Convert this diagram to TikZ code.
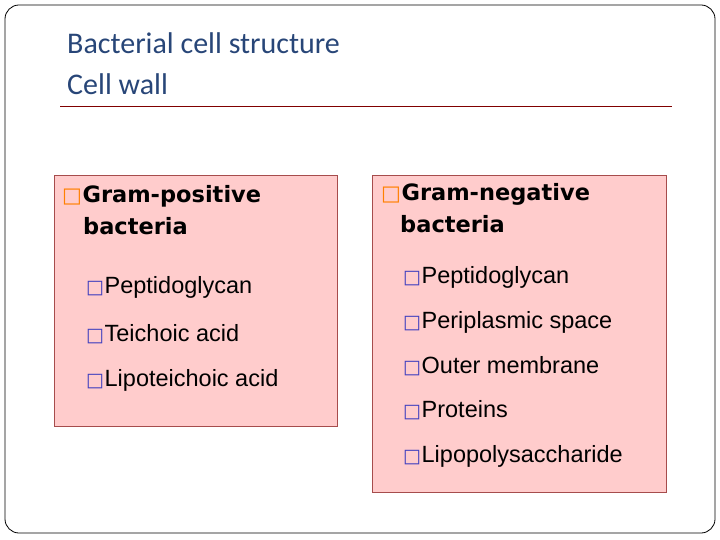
\documentclass[tikz,border=0pt]{standalone}
\usepackage{fontspec}
\setmainfont{Liberation Sans}
\newfontfamily\titlefont{Carlito}
\newfontfamily\headfont{DejaVu Sans}
\newfontfamily\symfont{DejaVu Sans}
\definecolor{ttlblue}{RGB}{40,70,120}
\begin{document}
\begin{tikzpicture}[x=1pt,y=-1pt,
  panel/.style={draw=red!50!black!70,fill=red!20,line width=0.6pt},
  head/.style={anchor=north west,align=left,font=\headfont\fontsize{22.5}{32}\selectfont\bfseries,inner sep=0pt},
  item/.style={anchor=west,font=\fontsize{23.5}{26}\selectfont,inner sep=0pt},
  ttl/.style={anchor=west,font=\titlefont\fontsize{30}{32}\selectfont,text=ttlblue,inner sep=0pt}]
\useasboundingbox (0,0) rectangle (720,540);
\draw[rounded corners=14pt,line width=0.8pt] (5,5) rectangle (715,533);
\node[ttl] (t1) at (67,43) {Bacterial cell structure};
\node[ttl] (t2) at (67,84) {Cell wall};
\draw[red!50!black,line width=1pt] (60,107) -- (672,107);
\draw[panel] (54,175) rectangle (337,426);
\draw[panel] (372,175) rectangle (666,492);
\def\bA{{\symfont\color{orange}\fontsize{21}{24}\selectfont □}}
\def\bB{{\symfont\color{blue!50!gray}\fontsize{19}{22}\selectfont □}}
\node[head] (gp) at (62,185) {\bA\hspace{0.5pt}Gram-positive\\\hspace*{21pt}bacteria};
\node[item] (p1) at (86,287) {\bB\hspace{0.5pt}Peptidoglycan};
\node[item] (p2) at (86,334) {\bB\hspace{0.5pt}Teichoic acid};
\node[item] (p3) at (86,380) {\bB\hspace{0.5pt}Lipoteichoic acid};
\node[head] (gn) at (381,183) {\bA\hspace{0.5pt}Gram-negative\\\hspace*{19pt}bacteria};
\node[item] (n1) at (403,277) {\bB\hspace{0.5pt}Peptidoglycan};
\node[item] (n2) at (403,322) {\bB\hspace{0.5pt}Periplasmic space};
\node[item] (n3) at (403,366) {\bB\hspace{0.5pt}Outer membrane};
\node[item] (n4) at (403,410) {\bB\hspace{0.5pt}Proteins};
\node[item] (n5) at (403,456) {\bB\hspace{0.5pt}Lipopolysaccharide};
\end{tikzpicture}
\end{document}
